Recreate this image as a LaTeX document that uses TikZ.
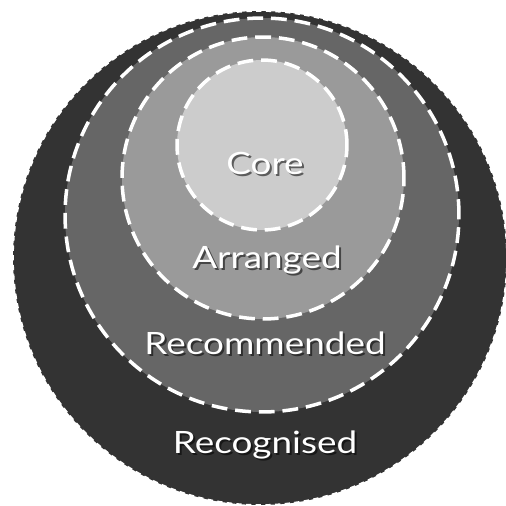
\documentclass[tikz,border=0pt]{standalone}
\usepackage{fontspec}
\newfontfamily\lblfont[FakeStretch=1.2]{Lato}
\definecolor{recog}{HTML}{333333}
\definecolor{recom}{HTML}{666666}
\definecolor{arran}{HTML}{9A9A9A}
\definecolor{coreg}{HTML}{CCCCCC}

\begin{document}
\begin{tikzpicture}[x=0.02cm, y=-0.02cm, inner sep=0pt,
  ring/.style={circle, draw=white, line width=2pt, dash pattern=on 9pt off 4.5pt},
  lbl/.style={text=white, font=\lblfont\fontsize{17.5}{20}\selectfont},
  lblsh/.style={text=black, opacity=0.55, font=\lblfont\fontsize{17.5}{20}\selectfont}]

  \useasboundingbox (0,0) rectangle (505,506);

  \node[circle, fill=recog, draw=white, line width=0.9pt, dash pattern=on 3pt off 2.5pt, minimum size=9.88cm] (Recog) at (260,258) {};
  \node[ring, fill=recom, minimum size=7.88cm] (Recom) at (262,215) {};
  \node[ring, fill=arran, minimum size=5.64cm] (Arran) at (263,178) {};
  \node[ring, fill=coreg, minimum size=3.4cm]  (Core)  at (262,145) {};

  % labels, with a soft shadow underneath
  \node[lblsh] (Core_s)  at (267,165) {Core};
  \node[lbl]   (Core_l)  at (265,163) {Core};
  \node[lblsh] (Arran_s) at (269,262) {Arranged};
  \node[lbl]   (Arran_l) at (267,260) {Arranged};
  \node[lblsh] (Recom_s) at (267,345) {Recommended};
  \node[lbl]   (Recom_l) at (265,343) {Recommended};
  \node[lblsh] (Recog_s) at (267,447) {Recognised};
  \node[lbl]   (Recog_l) at (265,445) {Recognised};

\end{tikzpicture}
\end{document}
